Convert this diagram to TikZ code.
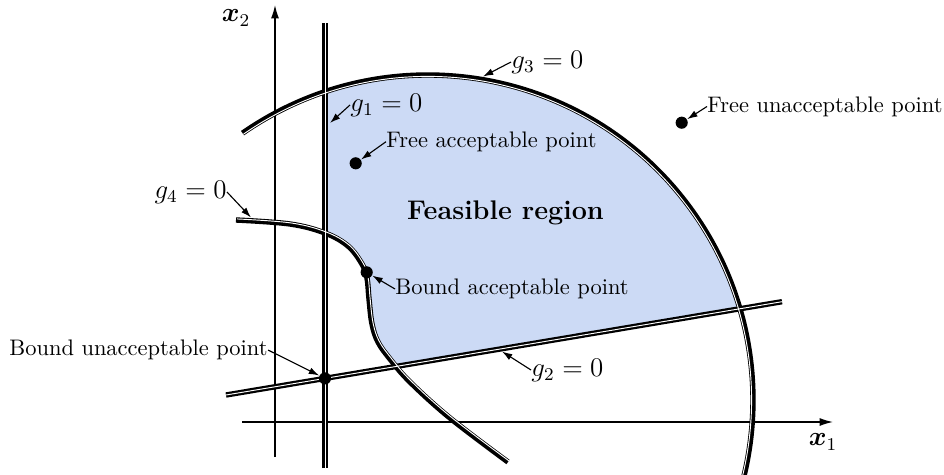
\documentclass[tikz,border=0pt]{standalone}
\usepackage{amsmath,bm}
\usetikzlibrary{arrows.meta}
\definecolor{feas}{RGB}{204,218,245}
\begin{document}
\begin{tikzpicture}[x=0.445pt,y=0.445pt,
  cons/.style={line width=2.4pt, black},
  consin/.style={line width=0.42pt, white},
  axis/.style={line width=0.6pt, -{Latex[length=6pt,width=3.6pt]}},
  lbl/.style={line width=0.5pt, -{Latex[length=4.6pt,width=3pt]}},
  dot/.style={circle, fill=black, inner sep=0pt, minimum size=5.4pt},
  txt/.style={inner sep=0pt, font=\normalsize},
  glbl/.style={inner sep=0pt, font=\large}]
\useasboundingbox (0,0) rectangle (944,474);

% feasible region
\begin{scope}
  \clip (428,74) circle[radius=325];
  \clip (325,0) rectangle (944,474);
  \clip (0,41.1) -- (944,199.5) -- (944,474) -- (0,474) -- cycle;
  \clip plot[smooth,tension=0.6] coordinates {(236,254) (290,250) (325,241) (348,228) (362,210) (367,196) (369,175) (372,150) (378,132) (390,115) (410,92) (450,56) (508,12)}
        -- (944,0) -- (944,474) -- (236,474) -- cycle;
  \fill[feas] (0,0) rectangle (944,474);
\end{scope}

% axes
\coordinate (x1s) at (242,52);
\coordinate (x1e) at (833,52);
\coordinate (x2s) at (275,17);
\coordinate (x2e) at (275,469);
\draw[axis] (x1s) -- (x1e);
\draw[axis] (x2s) -- (x2e);
\node[glbl] (x1l) at (823,32) {$\bm{x}_1$};
\node[glbl] (x2l) at (236,456) {$\bm{x}_2$};

% constraints: thick black
\coordinate (g1s) at (325,6);
\coordinate (g1e) at (325,451);
\coordinate (g2s) at (226,79);
\coordinate (g2e) at (782,172.3);
\draw[cons] (g1s) -- (g1e);
\draw[cons] (g2s) -- (g2e);
\draw[cons] (428,74) ++(124.8:325) arc[start angle=124.8, end angle=-13.5, radius=325];
\draw[cons] plot[smooth,tension=0.6] coordinates {(236,254) (290,250) (325,241) (348,228) (362,210) (367,196) (369,175) (372,150) (378,132) (390,115) (410,92) (450,56) (508,12)};

% constraints: inner white strip (feasible side)
\draw[consin, xshift=0.62pt] (g1s) -- (g1e);
\draw[consin, xshift=-0.10pt, yshift=0.61pt] (g2s) -- (g2e);
\draw[consin] (428,74) ++(124.8:323.6) arc[start angle=124.8, end angle=-13.5, radius=323.6];
\draw[consin, xshift=0.47pt, yshift=0.47pt] plot[smooth,tension=0.6] coordinates {(236,254) (290,250) (325,241) (348,228) (362,210) (367,196) (369,175) (372,150) (378,132) (390,115) (410,92) (450,56) (508,12)};

% points
\node[dot] (fa) at (355.7,310.7) {};
\node[dot] (fu) at (681.7,351.3) {};
\node[dot] (ba) at (366.7,201.7) {};
\node[dot] (bu) at (325,95.6) {};

% region label
\node[glbl, font=\large\bfseries] (fr) at (505.5,261) {Feasible region};

% point labels
\node[txt, anchor=west] (fal) at (386,332.3) {Free acceptable point};
\node[txt, anchor=west] (ful) at (707,367.5) {Free unacceptable point};
\node[txt, anchor=west] (bal) at (395,185) {Bound acceptable point};
\node[txt, anchor=east] (bul) at (268,124) {Bound unacceptable point};
\draw[lbl] (fal.west) -- (fa);
\draw[lbl] (ful.west) -- (fu);
\draw[lbl] (bal.west) -- (ba);
\draw[lbl] (bul.east) -- (bu);

% constraint labels
\node[glbl, anchor=west] (g3l) at (511,412) {$g_3=0$};
\node[glbl, anchor=west] (g1l) at (350,369) {$g_1=0$};
\node[glbl, anchor=west] (g2l) at (531,104) {$g_2=0$};
\node[glbl, anchor=east] (g4l) at (227,282) {$g_4=0$};
\coordinate (g3t) at (483,397.5);
\coordinate (g1t) at (330,351);
\coordinate (g2t) at (502,122.5);
\coordinate (g4t) at (251,256.5);
\draw[lbl] (g3l.west) -- (g3t);
\draw[lbl] (g1l.west) -- (g1t);
\draw[lbl] (g2l.west) -- (g2t);
\draw[lbl] (g4l.east) -- (g4t);
\end{tikzpicture}
\end{document}
